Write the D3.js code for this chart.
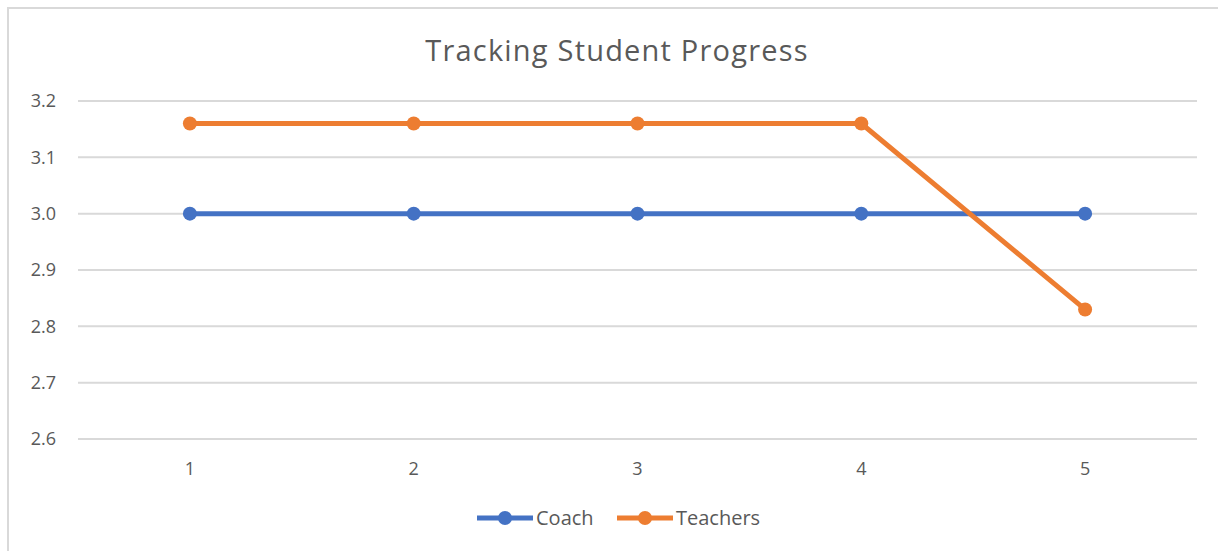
<!DOCTYPE html>
<html lang="en">
<head>
  <meta charset="UTF-8" />
  <title>Tracking Student Progress</title>
  <script src="https://d3js.org/d3.v7.min.js"></script>
  <style>
    body { margin: 0; background: #fff; }
    text { font-family: "Open Sans", sans-serif; fill: #595959; }
    .grid line { stroke: #d9d9d9; stroke-width: 2px; }
    .line { fill: none; stroke-width: 5px; }
  </style>
</head>
<body>
<script>
  // chart values
  const categories = [1, 2, 3, 4, 5];
  const coach = [3.0, 3.0, 3.0, 3.0, 3.0];
  const teachers = [3.16, 3.16, 3.16, 3.16, 2.83];
  const yTicks = [2.6, 2.7, 2.8, 2.9, 3.0, 3.1, 3.2];

  const series = [
    { name: "Coach", values: coach, color: "#4472c4" },
    { name: "Teachers", values: teachers, color: "#ed7d31" }
  ];

  const W = 1218, H = 551;
  const plot = { left: 78, right: 1197, top: 101, bottom: 439 };

  const svg = d3.select("body").append("svg")
    .attr("width", W)
    .attr("height", H);

  // chart frame (only top and left edges show)
  svg.append("path")
    .attr("d", `M8,${H}V8H${W}`)
    .attr("fill", "none")
    .attr("stroke", "#d9d9d9")
    .attr("stroke-width", 2);

  const x = d3.scalePoint()
    .domain(categories)
    .range([plot.left, plot.right])
    .padding(0.5);

  const y = d3.scaleLinear()
    .domain([2.6, 3.2])
    .range([plot.bottom, plot.top]);

  // gridlines
  svg.append("g")
    .attr("class", "grid")
    .selectAll("line")
    .data(yTicks)
    .enter()
    .append("line")
      .attr("x1", plot.left)
      .attr("x2", plot.right)
      .attr("y1", d => y(d))
      .attr("y2", d => y(d));

  // y labels
  svg.append("g")
    .selectAll("text")
    .data(yTicks)
    .enter()
    .append("text")
      .attr("x", 56)
      .attr("y", d => y(d))
      .attr("dy", "0.35em")
      .attr("text-anchor", "end")
      .style("font-size", "18px")
      .text(d => d3.format(".1f")(d));

  // x labels
  svg.append("g")
    .selectAll("text")
    .data(categories)
    .enter()
    .append("text")
      .attr("x", d => x(d))
      .attr("y", 475)
      .attr("text-anchor", "middle")
      .style("font-size", "18px")
      .text(d => d);

  // title
  svg.append("text")
    .attr("x", 617)
    .attr("y", 61)
    .attr("text-anchor", "middle")
    .style("font-size", "29px")
    .style("letter-spacing", "1.2px")
    .text("Tracking Student Progress");

  const line = d3.line()
    .x((d, i) => x(categories[i]))
    .y(d => y(d));

  series.forEach(s => {
    svg.append("path")
      .attr("class", "line")
      .attr("stroke", s.color)
      .attr("d", line(s.values));

    svg.append("g")
      .selectAll("circle")
      .data(s.values)
      .enter()
      .append("circle")
        .attr("cx", (d, i) => x(categories[i]))
        .attr("cy", d => y(d))
        .attr("r", 7)
        .attr("fill", s.color);
  });

  // legend
  const legendX = [477, 617];
  const legend = svg.append("g")
    .selectAll("g")
    .data(series)
    .enter()
    .append("g")
      .attr("transform", (d, i) => `translate(${legendX[i]},518)`);

  legend.append("line")
    .attr("x1", 0).attr("x2", 56)
    .attr("stroke", d => d.color)
    .attr("stroke-width", 5);

  legend.append("circle")
    .attr("cx", 28)
    .attr("r", 7)
    .attr("fill", d => d.color);

  legend.append("text")
    .attr("x", 59)
    .attr("dy", "0.35em")
    .style("font-size", "20px")
    .text(d => d.name);
</script>
</body>
</html>
